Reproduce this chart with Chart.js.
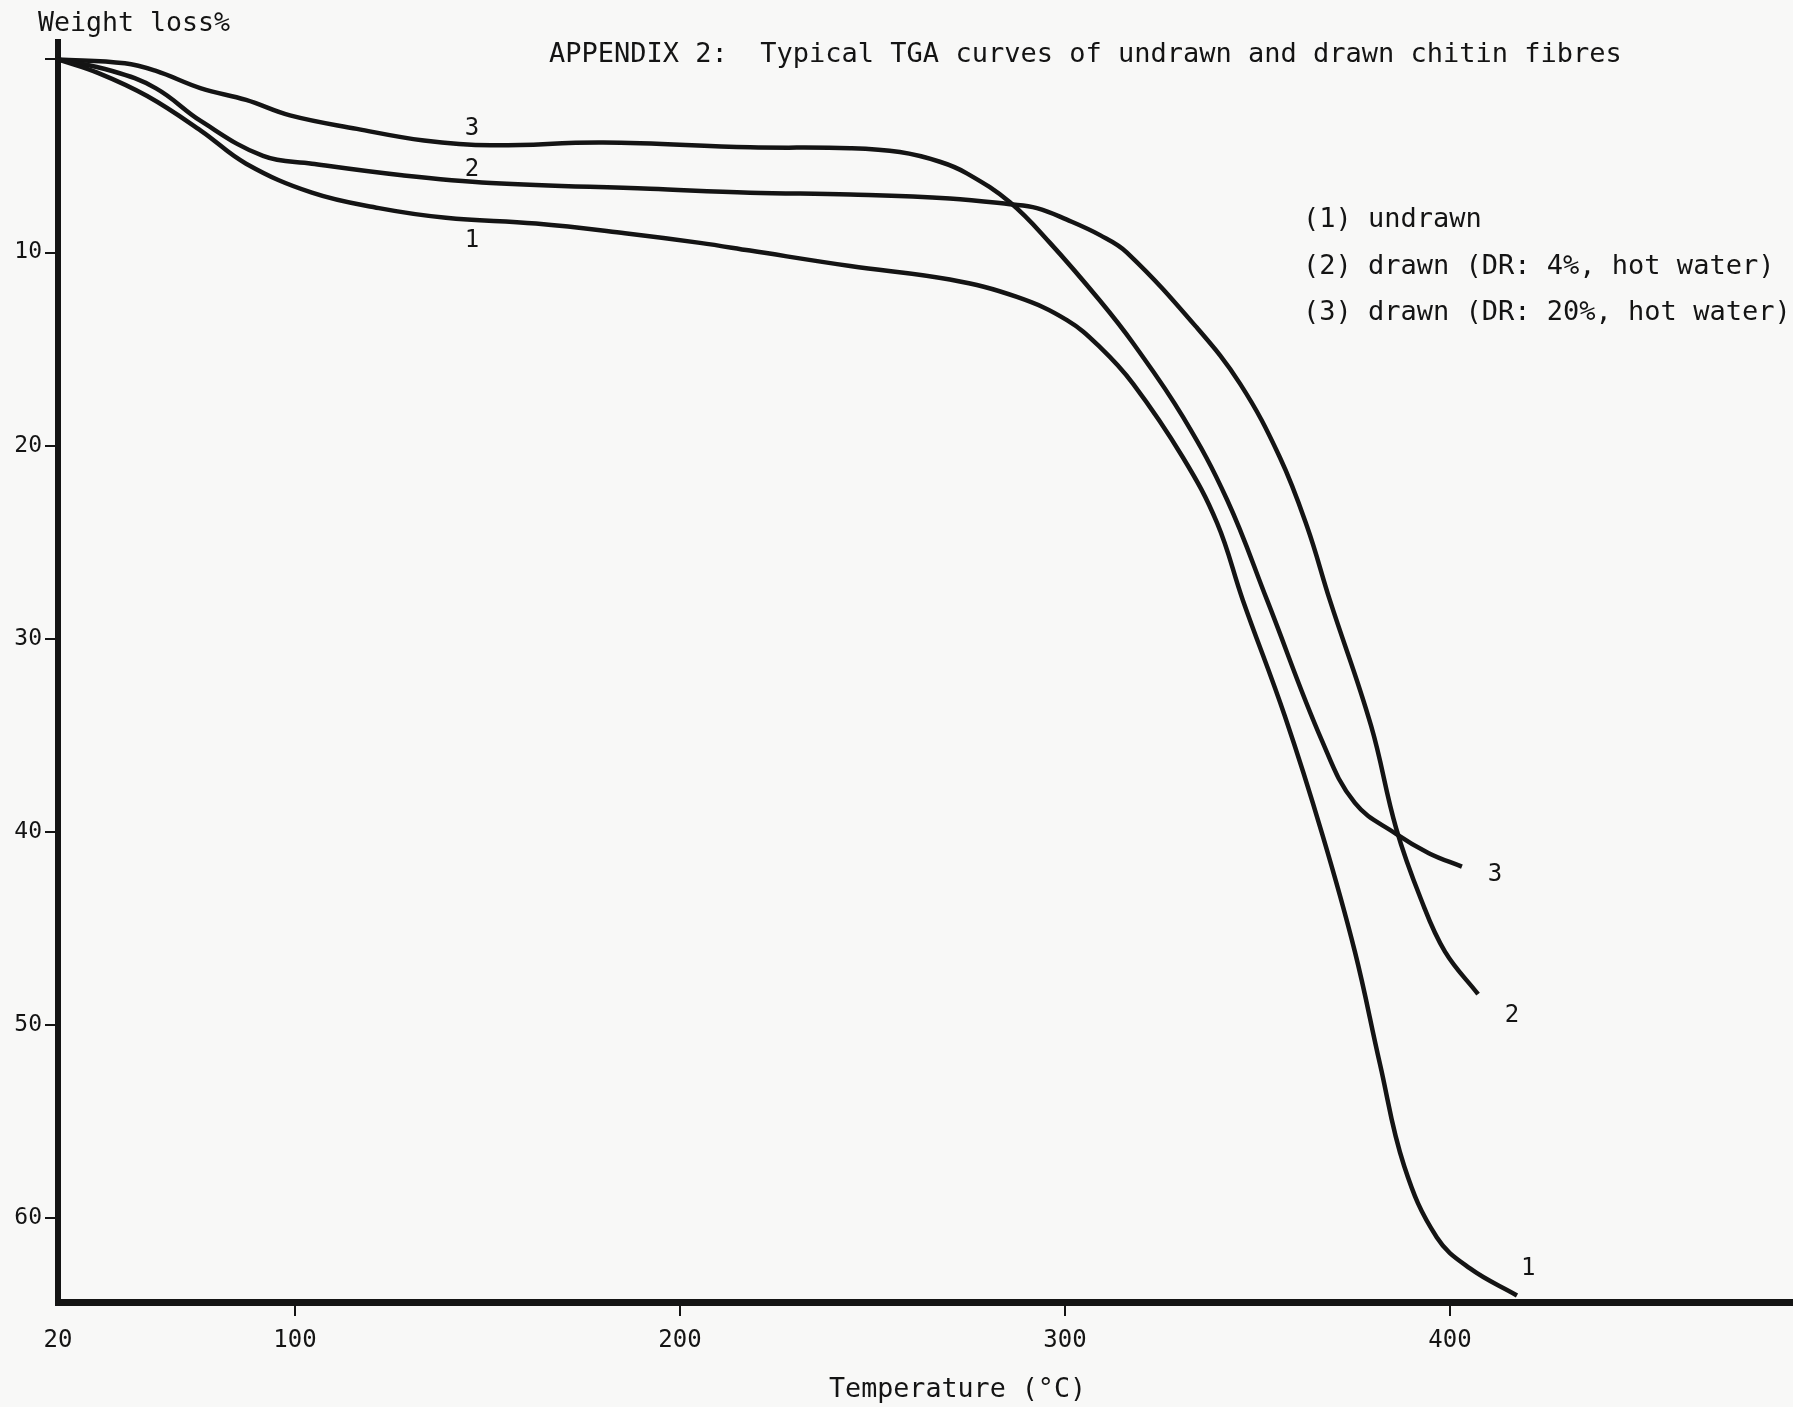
<!DOCTYPE html>
<html>
<head>
<meta charset="utf-8">
<script src="https://cdn.jsdelivr.net/npm/chart.js@4/dist/chart.umd.min.js"></script>
<style>
  body { margin: 0; background: #f8f8f7; }
  #wrap { width: 1793px; height: 1407px; }
</style>
</head>
<body>
<div id="wrap"><canvas id="tgaChart"></canvas></div>
<script>
// temperature (deg C) and weight loss (%)
const temp1 = [38.4, 48.8, 61.6, 75.6, 87.3, 104.4, 121.8, 139.2, 162.6, 185.7, 205.2, 218.2, 244.2, 270.1, 287.5, 300.5, 309.1, 317.7, 330.6, 339.5, 346.2, 357.1, 366.8, 375.3, 381.8, 388.1, 396.6, 405.2, 417.4];
const loss1 = [0, 0.7, 1.9, 3.7, 5.4, 6.9, 7.7, 8.2, 8.5, 9.0, 9.5, 9.9, 10.7, 11.4, 12.3, 13.5, 14.9, 16.8, 20.6, 24.0, 28.0, 34.0, 40.1, 46.2, 52.0, 57.3, 61.0, 62.6, 64.0];

const temp2 = [38.4, 52.5, 63.9, 75.6, 91.7, 104.4, 127.8, 150.9, 192.2, 218.2, 244.2, 270.1, 285.7, 292.7, 300.5, 309.1, 316.1, 334.3, 345.5, 355.8, 362.9, 368.8, 379.5, 386.0, 392.5, 398.7, 407.3];
const loss2 = [0, 0.6, 1.5, 3.2, 5.0, 5.4, 6.0, 6.4, 6.7, 6.9, 7.0, 7.2, 7.5, 7.7, 8.3, 9.1, 10.0, 13.9, 16.8, 20.6, 24.2, 28.0, 34.5, 39.8, 43.5, 46.2, 48.4];

const temp3 = [38.4, 55.8, 63.9, 75.6, 87.3, 98.7, 116.1, 133.5, 150.9, 180.0, 218.2, 244.2, 257.1, 267.5, 274.5, 285.7, 296.1, 309.1, 317.7, 330.6, 342.1, 352.5, 366.8, 375.3, 386.0, 394.5, 403.1];
const loss3 = [0, 0.2, 0.6, 1.5, 2.1, 2.9, 3.6, 4.2, 4.45, 4.3, 4.55, 4.6, 4.8, 5.3, 5.9, 7.4, 9.5, 12.5, 14.7, 18.5, 22.8, 28.0, 35.3, 38.5, 40.1, 41.1, 41.8];

const xTicks = [38.44, 100, 200, 300, 400];
const yTicks = [0, 10, 20, 30, 40, 50, 60];

const legendLines = ['(1) undrawn', '(2) drawn (DR: 4%, hot water)', '(3) drawn (DR: 20%, hot water)'];
// curve numbers written next to the lines: [text, temp, loss]
const curveTags = [
  ['3', 146, 3.6], ['2', 146, 5.7], ['1', 146, 9.4],
  ['3', 411.7, 42.2], ['2', 416.1, 49.5], ['1', 420.3, 62.6]
];

const FONT = '"DejaVu Sans Mono", monospace';
const ink = '#141414';

function pts(xs, ys) {
  return xs.map((x, i) => ({ x: x, y: ys[i] }));
}

const textPlugin = {
  id: 'texts',
  beforeDraw(chart) {
    const ctx = chart.ctx;
    ctx.save();
    ctx.fillStyle = '#f8f8f7';
    ctx.fillRect(0, 0, chart.width, chart.height);
    ctx.restore();
  },
  afterDraw(chart) {
    const ctx = chart.ctx;
    const xs = chart.scales.x, ys = chart.scales.y;
    ctx.save();
    ctx.fillStyle = ink;
    ctx.textBaseline = 'middle';
    ctx.textAlign = 'left';
    ctx.font = '27px ' + FONT;
    ctx.fillText('APPENDIX 2:  Typical TGA curves of undrawn and drawn chitin fibres', 549, 55, 1081);
    ctx.fillText('Weight loss%', 38, 24, 192);
    ctx.fillText('Temperature (°C)', 829, 1390, 257);
    legendLines.forEach((t, i) => {
      ctx.fillText(t, 1303, 220 + i * 46.5);
    });
    ctx.font = '24px ' + FONT;
    ctx.textAlign = 'center';
    curveTags.forEach(t => {
      ctx.fillText(t[0], xs.getPixelForValue(t[1]), ys.getPixelForValue(t[2]));
    });
    ctx.restore();
  }
};

new Chart(document.getElementById('tgaChart'), {
  type: 'line',
  data: {
    datasets: [
      { label: 'undrawn', data: pts(temp1, loss1) },
      { label: 'drawn DR 4%', data: pts(temp2, loss2) },
      { label: 'drawn DR 20%', data: pts(temp3, loss3) }
    ]
  },
  options: {
    responsive: true,
    maintainAspectRatio: false,
    animation: false,
    layout: { padding: { top: 42, right: 0, left: 0, bottom: 0 } },
    elements: {
      line: { borderColor: ink, borderWidth: 4.5, tension: 0.4, fill: false },
      point: { radius: 0 }
    },
    plugins: {
      legend: { display: false },
      title: { display: false },
      tooltip: { enabled: false }
    },
    scales: {
      x: {
        type: 'linear',
        min: 38.44,
        max: 489.1,
        afterBuildTicks: s => { s.ticks = xTicks.map(v => ({ value: v })); },
        afterFit: s => { s.height = 105; },
        border: { display: true, color: ink, width: 7 },
        grid: {
          drawOnChartArea: false,
          tickLength: 14,
          lineWidth: 2,
          color: c => (c.tick && c.tick.value < 50) ? 'rgba(0,0,0,0)' : ink
        },
        ticks: {
          autoSkip: false,
          maxRotation: 0,
          padding: 10,
          color: ink,
          font: { family: FONT, size: 24 },
          callback: v => v < 50 ? '20' : v
        }
      },
      y: {
        type: 'linear',
        reverse: true,
        min: -0.9,
        max: 64.34,
        afterBuildTicks: s => { s.ticks = yTicks.map(v => ({ value: v })); },
        afterFit: s => { s.width = 58; },
        border: { display: true, color: ink, width: 6 },
        grid: { drawOnChartArea: false, tickLength: 13, lineWidth: 2, color: ink },
        ticks: {
          autoSkip: false,
          padding: 3,
          color: ink,
          font: { family: FONT, size: 23 },
          callback: v => v === 0 ? '' : v
        }
      }
    }
  },
  plugins: [textPlugin]
});
</script>
</body>
</html>
